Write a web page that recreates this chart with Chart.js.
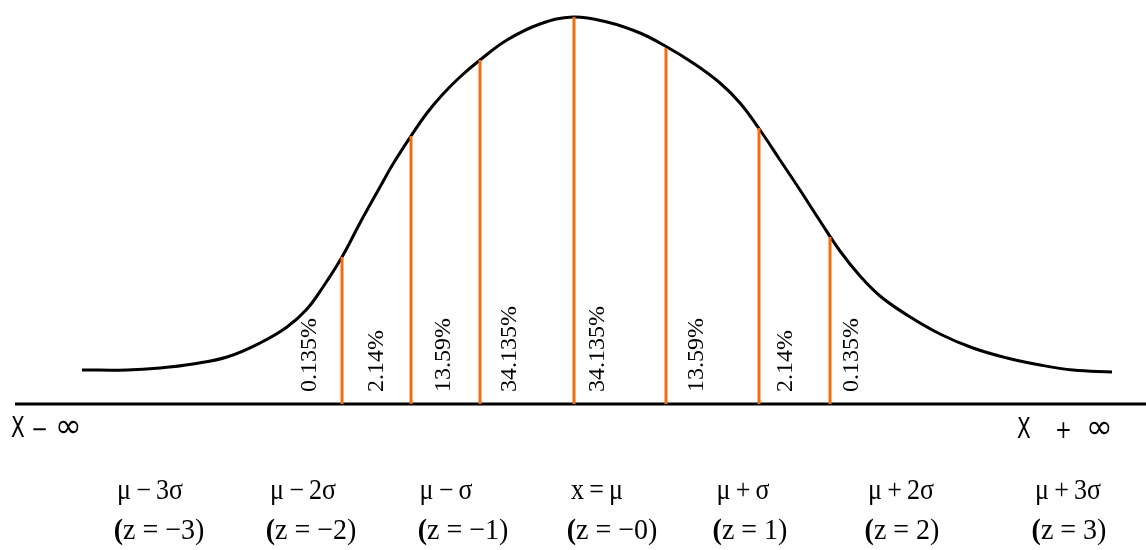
<!DOCTYPE html>
<html>
<head>
<meta charset="utf-8">
<script src="https://cdn.jsdelivr.net/npm/chart.js@4"></script>
<style>
  html, body { margin: 0; padding: 0; background: #fff; }
</style>
</head>
<body>
<canvas id="bell" width="1146" height="550"></canvas>
<script>
// curve: position along the axis, height above the baseline
const curveX = [82, 127, 160, 193, 227, 260, 287, 307, 323, 342, 360, 380, 393, 411, 427, 443, 460, 480, 507, 540, 573,
                607, 640, 667, 693, 720, 740, 760, 780, 800, 820, 840, 860, 880, 907, 940, 973, 1007, 1040, 1073, 1112];
const curveY = [34, 34, 36, 40, 47, 61, 77, 95, 117, 147, 181, 217, 240, 268, 291, 310, 327, 344, 364, 380, 387,
                382, 371, 357, 341, 321, 301, 274, 244, 214, 183, 153, 128, 108, 89, 70, 56, 46, 39, 34, 32];

// the orange sigma cuts
const cutX = [342, 411, 480, 574, 666, 759, 830];
const cutTop = [147, 268, 344, 387, 356, 276, 167];

const pctLabels = ['0.135%', '2.14%', '13.59%', '34.135%', '34.135%', '13.59%', '2.14%', '0.135%'];
const sigmaLabels = ['μ\u2009−\u20093σ', 'μ\u2009−\u20092σ', 'μ\u2009−\u2009σ', 'x\u2009=\u2009μ', 'μ\u2009+\u2009σ', 'μ\u2009+\u20092σ', 'μ\u2009+\u20093σ'];
const zLabels = ['z = −3)', 'z = −2)', 'z = −1)', 'z = −0)', 'z = 1)', 'z = 2)', 'z = 3)'];

const axisMin = 0, axisMax = 1146;
const ORANGE = '#f26d0f';

// where the text sits (axis units)
const pctPos = [310, 377, 444, 510, 598, 697, 786, 852];
const sigmaPos = [150, 303, 446, 597, 743, 901, 1068];
const zPos = [159, 311, 463, 612, 750, 902, 1069];

const curveData = curveX.map((x, i) => ({ x: x, y: curveY[i] }));

const datasets = cutX.map((x, i) => ({
  data: [{ x: x, y: 0 }, { x: x, y: cutTop[i] }],
  borderColor: ORANGE,
  borderWidth: 3,
  pointRadius: 0,
  showLine: true,
  tension: 0,
  clip: false
}));
datasets.push({
  data: [{ x: 15, y: 0 }, { x: axisMax, y: 0 }],
  borderColor: '#000',
  borderWidth: 3,
  pointRadius: 0,
  showLine: true,
  clip: false
});
datasets.push({
  data: curveData,
  borderColor: '#000',
  borderWidth: 3,
  pointRadius: 0,
  showLine: true,
  tension: 0.4,
  clip: false
});

function stretchedText(ctx, txt, x, y, ky, rotate) {
  ctx.save();
  ctx.translate(x, y);
  ctx.scale(1, ky);
  if (rotate) ctx.rotate(-Math.PI / 2);
  ctx.fillText(txt, 0, 0);
  ctx.restore();
}

const labelPlugin = {
  id: 'labels',
  afterDraw(chart) {
    const ctx = chart.ctx;
    const xs = chart.scales.x, ys = chart.scales.y;
    ctx.save();
    ctx.fillStyle = '#000';

    // percentages, rotated
    ctx.font = '24px "Liberation Serif"';
    ctx.textAlign = 'left';
    ctx.textBaseline = 'middle';
    pctLabels.forEach((t, i) => {
      stretchedText(ctx, t, xs.getPixelForValue(pctPos[i]), ys.getPixelForValue(12), 1.0, true);
    });

    // axis ends
    ctx.textBaseline = 'alphabetic';
    ctx.textAlign = 'left';
    ctx.font = '20px "DejaVu Sans"';
    stretchedText(ctx, 'X', 11, 437, 1.45);
    stretchedText(ctx, '−', 31, 437, 1.2);
    stretchedText(ctx, 'X', 1017, 438, 1.45);
    stretchedText(ctx, '+', 1055, 438, 1.2);
    ctx.font = '32px "DejaVu Sans"';
    stretchedText(ctx, '∞', 55, 437, 1.05);
    stretchedText(ctx, '∞', 1086, 438, 1.05);

    // sigma row
    ctx.font = '26px "Liberation Serif"';
    ctx.textAlign = 'center';
    sigmaLabels.forEach((t, i) => {
      stretchedText(ctx, t, xs.getPixelForValue(sigmaPos[i]), 499, 1.1);
    });

    // z row, bold opening paren
    ctx.textAlign = 'left';
    zLabels.forEach((t, i) => {
      ctx.font = 'bold 28px "Liberation Serif"';
      const pw = ctx.measureText('(').width;
      ctx.font = '28px "Liberation Serif"';
      const rw = ctx.measureText(t).width;
      const x0 = xs.getPixelForValue(zPos[i]) - (pw + rw) / 2;
      ctx.font = 'bold 28px "Liberation Serif"';
      stretchedText(ctx, '(', x0, 539, 1.05);
      ctx.font = '28px "Liberation Serif"';
      stretchedText(ctx, t, x0 + pw, 539, 1.05);
    });
    ctx.restore();
  }
};

new Chart(document.getElementById('bell'), {
  type: 'scatter',
  data: { datasets: datasets },
  options: {
    responsive: false,
    animation: false,
    events: [],
    layout: { padding: { left: 0, right: 0, top: 0, bottom: 146 } },
    plugins: { legend: { display: false }, tooltip: { enabled: false } },
    scales: {
      x: { type: 'linear', min: axisMin, max: axisMax, display: false },
      y: { type: 'linear', min: 0, max: 404, display: false }
    }
  },
  plugins: [labelPlugin]
});
</script>
</body>
</html>
